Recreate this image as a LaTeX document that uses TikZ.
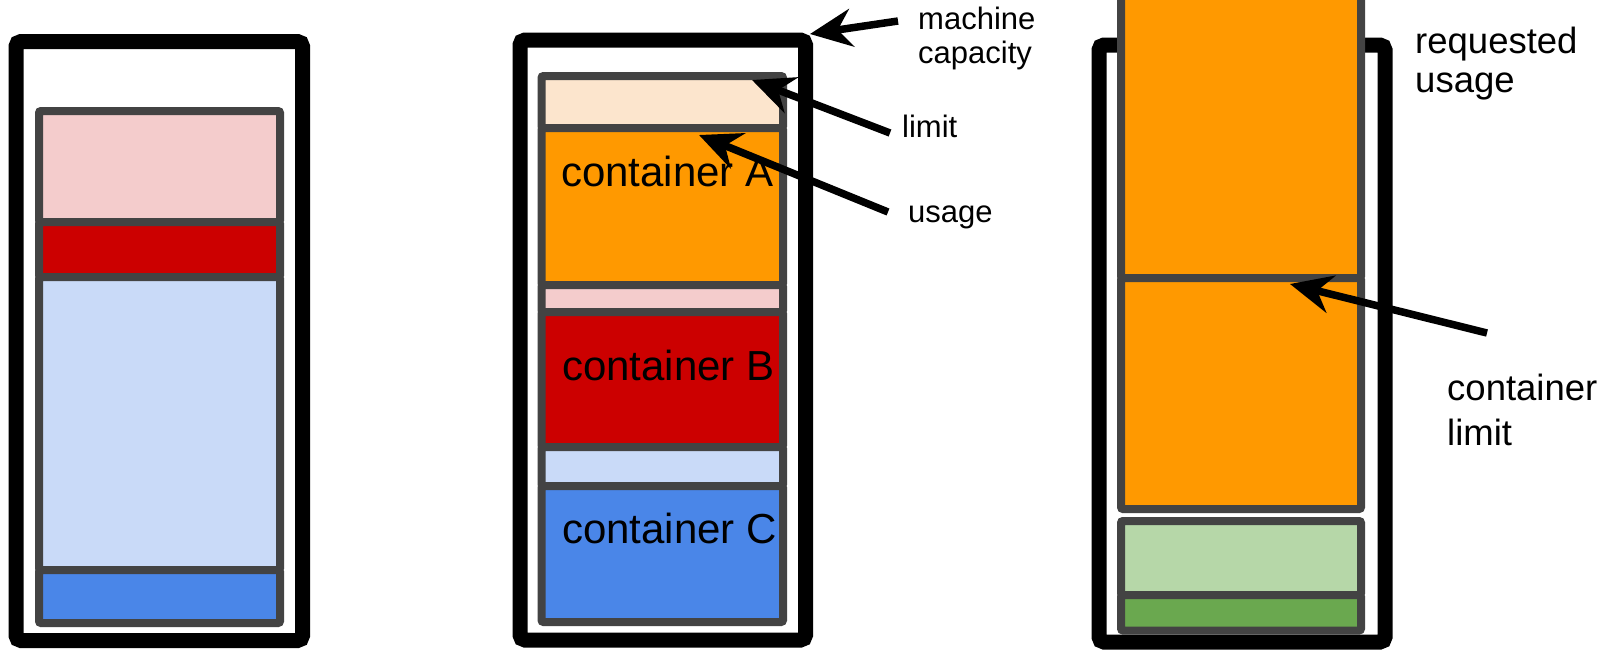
\documentclass[tikz,border=0pt]{standalone}
\usepackage{fontspec}
\setmainfont{Liberation Sans}
\usetikzlibrary{arrows.meta}
\definecolor{edgegray}{HTML}{434343}
\definecolor{pinkl}{HTML}{F4CCCC}
\definecolor{redd}{HTML}{CC0000}
\definecolor{bluel}{HTML}{C9DAF8}
\definecolor{blued}{HTML}{4A86E8}
\definecolor{orangel}{HTML}{FCE5CD}
\definecolor{oranged}{HTML}{FF9900}
\definecolor{greenl}{HTML}{B6D7A8}
\definecolor{greend}{HTML}{6AA84F}
\tikzset{
  machinebox/.style={draw=black, line width=15pt, rounded corners=5pt},
  segbox/.style={draw=edgegray, line width=8pt, rounded corners=2pt},
  pointer/.style={line width=7.5pt, -{Stealth[length=42pt, width=38pt, inset=14pt]}},
  smalllabel/.style={anchor=base west, inner sep=0pt, font=\fontsize{31}{34}\selectfont},
  biglabel/.style={anchor=base west, inner sep=0pt, font=\fontsize{36.5}{40}\selectfont},
  contlabel/.style={anchor=base west, inner sep=0pt, font=\fontsize{42}{47}\selectfont},
}
\begin{document}
\begin{tikzpicture}[x=1pt, y=-1pt]
\useasboundingbox (0,0) rectangle (1607,649);
\clip (0,0) rectangle (1607,649);
\fill[white] (0,0) rectangle (1607,649);

% ---------- left panel ----------
\draw[machinebox] (16,41.5) rectangle (302.5,640.5);
\draw[segbox, fill=pinkl] (39,111) rectangle (280,222);
\draw[segbox, fill=redd] (39,222) rectangle (280,277);
\draw[segbox, fill=bluel] (39,277) rectangle (280,570);
\draw[segbox, fill=blued] (39,570) rectangle (280,623);

% ---------- middle panel ----------
\draw[machinebox] (520,40) rectangle (805.5,640);
\draw[segbox, fill=orangel] (541.5,76) rectangle (783,128);
\draw[segbox, fill=oranged] (541.5,128) rectangle (783,285);
\draw[segbox, fill=pinkl] (541.5,285) rectangle (783,312);
\draw[segbox, fill=redd] (541.5,312) rectangle (783,447);
\draw[segbox, fill=bluel] (541.5,447) rectangle (783,486);
\draw[segbox, fill=blued] (541.5,486) rectangle (783,622);
\node[contlabel] (ca) at (561,186) {container A};
\node[contlabel] (cb) at (562,380) {container B};
\node[contlabel] (cc) at (562,543) {container C};

\node[smalllabel] (mc1) at (918,29) {machine};
\node[smalllabel] (mc2) at (918,63) {capacity};
\node[smalllabel] (lim) at (902,137) {limit};
\node[smalllabel] (use) at (908,222) {usage};

\coordinate (mcTail) at (898,21);
\coordinate (mcTip) at (810,34);
\coordinate (limTail) at (890,133);
\coordinate (limTip) at (752,80);
\coordinate (useTail) at (888,212);
\coordinate (useTip) at (699,135);
\draw[pointer] (mcTail) -- (mcTip);
\draw[pointer] (limTail) -- (limTip);
\draw[pointer] (useTail) -- (useTip);

% ---------- right panel ----------
\draw[machinebox] (1099,45) rectangle (1385,642);
\draw[segbox, fill=oranged] (1121,-30) rectangle (1361,278);
\draw[segbox, fill=oranged] (1121,278) rectangle (1361,509);
\draw[segbox, fill=greenl] (1121,521) rectangle (1361,595);
\draw[segbox, fill=greend] (1121,595) rectangle (1361,630.5);

\node[biglabel] (rq1) at (1415,53) {requested};
\node[biglabel] (rq2) at (1415,92) {usage};
\node[biglabel] (cl1) at (1447,400) {container};
\node[biglabel] (cl2) at (1447,445) {limit};

\coordinate (clTail) at (1487,333);
\coordinate (clTip) at (1290,284);
\draw[pointer] (clTail) -- (clTip);
\end{tikzpicture}
\end{document}
